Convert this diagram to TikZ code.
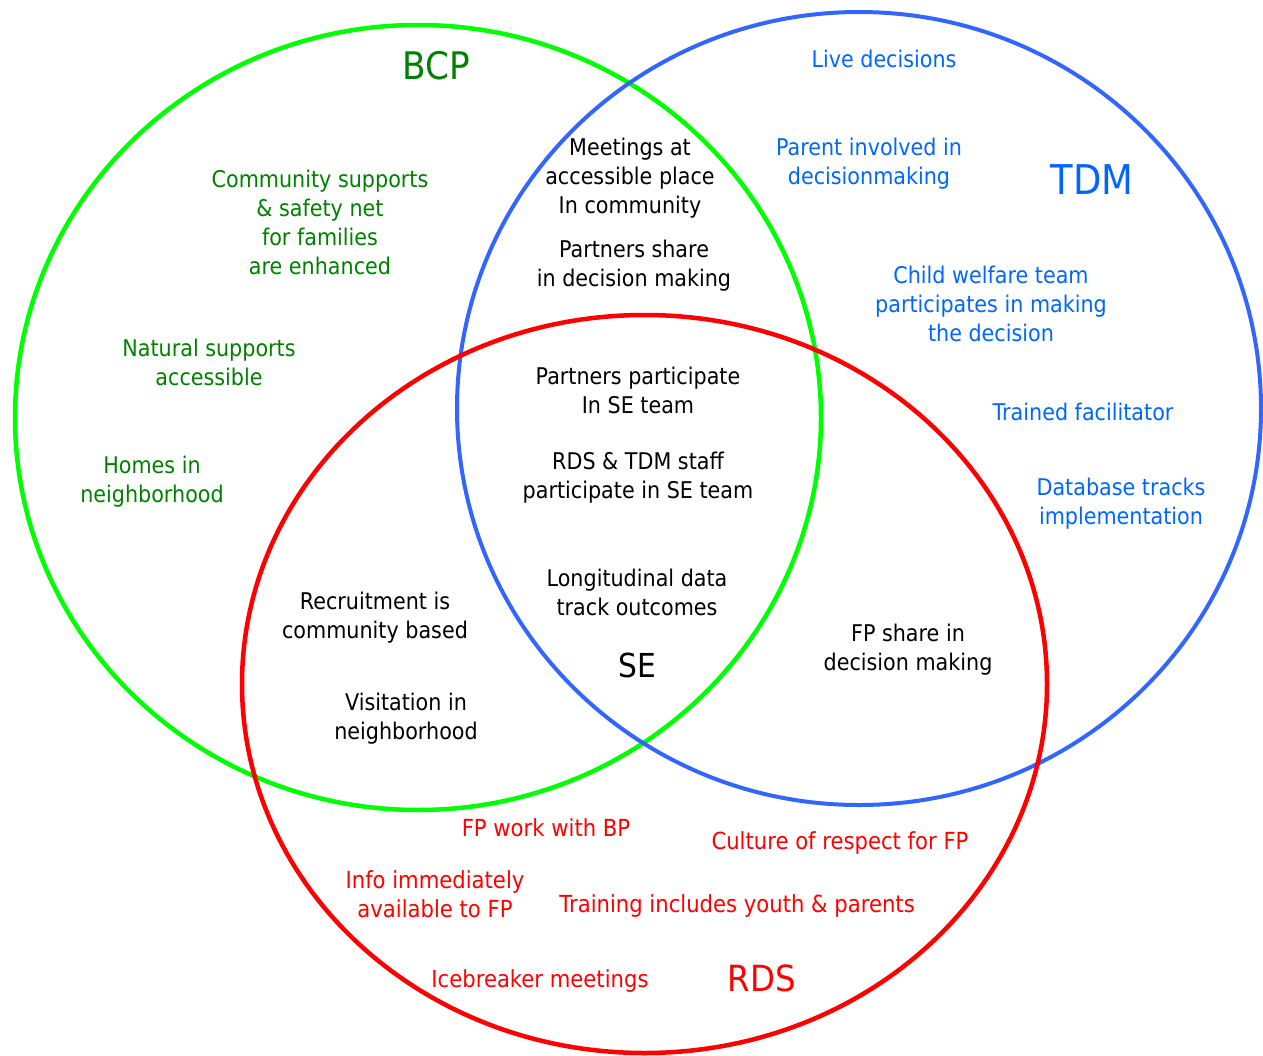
\documentclass[tikz,border=0pt]{standalone}
\usepackage{fontspec}
\setmainfont{DejaVu Sans}
\newfontfamily\basefont[FakeStretch=0.9]{DejaVu Sans}
\definecolor{bcpline}{RGB}{0,255,0}
\definecolor{bcptext}{RGB}{0,128,0}
\definecolor{tdmline}{RGB}{51,102,255}
\definecolor{tdmtext}{RGB}{0,102,255}
\definecolor{rdsline}{RGB}{255,0,0}
\definecolor{rdstext}{RGB}{255,0,0}
\tikzset{
  lbl/.style={align=center, inner sep=0pt, yshift=-2pt, font=\basefont\fontsize{23}{29}\selectfont},
  grn/.style={lbl, text=bcptext},
  blu/.style={lbl, text=tdmtext},
  blk/.style={lbl, text=black},
  rd/.style={lbl, text=rdstext, font=\basefont\fontsize{23.5}{29}\selectfont},
  title/.style={inner sep=0pt, font=\basefont\fontsize{38}{44}\selectfont},
  ring/.style={line width=4.5pt},
}
\begin{document}
\begin{tikzpicture}[x=1pt,y=-1pt]
\useasboundingbox (0,0) rectangle (1263,1055);
% circles
\draw[ring, bcpline] (418,417.5) ellipse [x radius=403, y radius=392.5];
\draw[ring, tdmline, line width=4pt] (859,408.5) ellipse [x radius=402, y radius=396.5];
\draw[ring, rdsline] (644.5,684) ellipse [x radius=402.5, y radius=369];
% titles
\node[title, text=bcptext] (bcp) at (436,66) {BCP};
\node[title, text=tdmtext, font=\basefont\fontsize{41}{46}\selectfont] (tdm) at (1092,180) {TDM};
\node[title, text=rdstext, font=\basefont\fontsize{36}{42}\selectfont] (rds) at (762,978) {RDS};
\node[title, text=black, font=\basefont\fontsize{33}{40}\selectfont] (se) at (637,665) {SE};
% BCP only
\node[grn] (community) at (320,220) {Community supports\\\& safety net\\ for families\\are enhanced};
\node[grn] (natural) at (209,360) {Natural supports\\accessible};
\node[grn] (homes) at (152,479.5) {Homes in\\neighborhood};
% BCP & TDM
\node[blk] (meetings) at (630,176) {Meetings at\\accessible place\\In community};
\node[blk] (pshare) at (634,264) {Partners share\\in decision making};
% TDM only
\node[blu] (live) at (884,57) {Live decisions};
\node[blu] (parent) at (869,161.5) {Parent involved in\\decisionmaking};
\node[blu] (child) at (991,301.5) {Child welfare team\\participates in making\\the decision};
\node[blu] (trained) at (1083,410) {Trained facilitator};
\node[blu] (database) at (1121,502) {Database tracks\\implementation};
% center
\node[blk] (ppart) at (638,388.5) {Partners participate\\In SE team};
\node[blk] (staff) at (638,476) {RDS \& TDM staff\\participate in SE team};
\node[blk] (longit) at (637,590.5) {Longitudinal data\\track outcomes};
% BCP & RDS
\node[blk] (recruit) at (375,615.5) {Recruitment is\\community based};
\node[blk] (visit) at (406,716.5) {Visitation in\\neighborhood};
% TDM & RDS
\node[blk] (fpshare) at (908,648) {FP share in\\decision making};
% RDS only
\node[rd] (fpwork) at (546,826) {FP work with BP};
\node[rd] (culture) at (840,841) {Culture of respect for FP};
\node[rd] (info) at (435,892) {Info immediately\\available to FP};
\node[rd] (training) at (737,904) {Training includes youth \& parents};
\node[rd] (ice) at (540,979) {Icebreaker meetings};
\end{tikzpicture}
\end{document}
